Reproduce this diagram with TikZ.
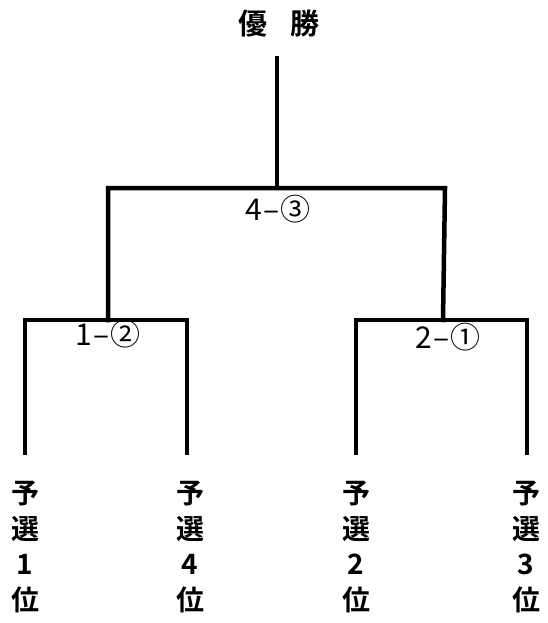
\documentclass[tikz,border=0pt]{standalone}
\usepackage{fontspec}
\newfontfamily\jp{Noto Sans CJK JP}[BoldFont={* Bold}]
\begin{document}
\begin{tikzpicture}[x=1pt,y=-1pt,
  bar/.style={line width=4.5pt,line cap=rect,line join=miter},
  title/.style={font=\jp\bfseries\fontsize{29}{32}\selectfont,inner sep=0pt},
  score/.style={font=\jp\fontsize{30}{32}\selectfont,inner sep=0pt},
  leaf/.style={font=\jp\bfseries\fontsize{28}{35.5}\selectfont,align=center,inner sep=0pt,anchor=north}]
\useasboundingbox (0,0) rectangle (547,623);
\node[title] (win) at (279,24) {優\hspace{0.8em}勝};
% coordinates
\coordinate (top) at (277,58);
\coordinate (m) at (277,188);
\coordinate (mL) at (108,188);
\coordinate (mR) at (445,188);
\coordinate (sL) at (108,320);
\coordinate (sR) at (443,320);
\coordinate (aL) at (25,320);
\coordinate (aR) at (187,320);
\coordinate (bL) at (356,320);
\coordinate (bR) at (527,320);
\coordinate (a1) at (25,453);
\coordinate (a2) at (187,453);
\coordinate (b1) at (356,453);
\coordinate (b2) at (527,453);
\draw[bar] (top) -- (m);
\draw[bar] (sL) -- (mL) -- (mR) -- (sR);
\draw[bar] (a1) -- (aL) -- (aR) -- (a2);
\draw[bar] (b1) -- (bL) -- (bR) -- (b2);
\node[score] (s0) at (278,209) {4\kern1pt–\kern1pt③};
\node[score] (s1) at (108,334) {1\kern1pt–\kern1pt②};
\node[score] (s2) at (448,337) {2\kern1pt–\kern1pt①};
\node[leaf] (l1) at (25,481) {予\\選\\1\\位};
\node[leaf] (l2) at (190,481) {予\\選\\4\\位};
\node[leaf] (l3) at (356,481) {予\\選\\2\\位};
\node[leaf] (l4) at (526,481) {予\\選\\3\\位};
\end{tikzpicture}
\end{document}
